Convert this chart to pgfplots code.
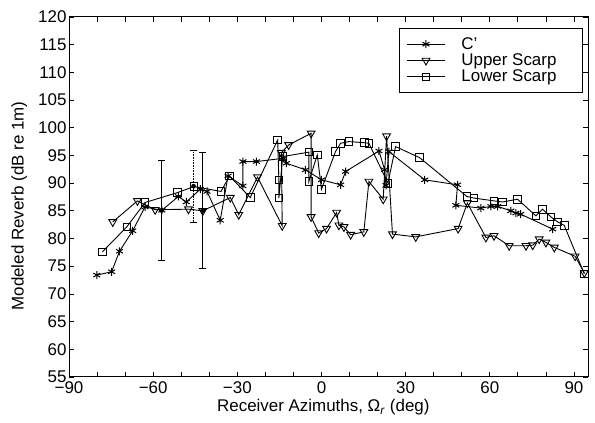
\documentclass[border=0pt]{standalone}
\usepackage{fontspec}
\setmainfont{Liberation Sans}
\usepackage{pgfplots}
\pgfplotsset{compat=1.18}

\begin{document}
\begin{tikzpicture}
\begin{axis}[
    scale only axis,
    width=519bp, height=360bp,
    xmin=-90, xmax=95,
    ymin=55, ymax=120,
    xtick={-90,-60,...,90},
    xticklabels={−90,−60,−30,0,30,60,90},
    minor x tick num=2,
    ytick={55,60,...,120},
    tick align=inside,
    major tick length=5bp,
    minor tick length=5bp,
    every tick/.style={black, line width=0.8bp},
    axis line style={line width=1bp},
    font=\fontsize{17}{20}\selectfont,
    /pgf/number format/assume math mode=true,
    xticklabel style={inner ysep=0pt, yshift=-4.5bp},
    yticklabel style={inner ysep=0pt, xshift=1bp},
    xlabel={Receiver Azimuths, Ω\textsubscript{\textit{r}} (deg)},
    ylabel={Modeled Reverb (dB re 1m)},
    xlabel style={at={(axis description cs:0.49,-0.096)}, anchor=base},
    ylabel style={at={(axis description cs:-0.096,0.475)}, anchor=center},
    legend style={at={(axis description cs:0.990,0.969)}, anchor=north east,
        draw=black, line width=0.8bp, fill=white,
        font=\fontsize{17}{20}\selectfont,
        inner xsep=7bp, inner ysep=7bp, row sep=-1bp,
        /tikz/every odd column/.append style={column sep=14bp}},
    legend cell align=left,
    legend image code/.code={\draw[mark repeat=2,mark phase=2,#1]
        plot coordinates {(0bp,0bp) (19bp,0bp) (38bp,0bp)};},
    every axis plot/.append style={black, line width=0.9bp},
]

% C'
\addplot[mark=asterisk, mark size=4bp, mark options={line width=1bp}] coordinates {
(-80.1,73.4) (-74.8,74.0) (-72.0,77.7) (-67.3,81.4) (-62.9,85.7)
(-56.9,85.1) (-51.0,87.6) (-48.2,86.6) (-43.2,88.9) (-40.8,88.5)
(-36.1,83.3) (-33.3,91.3) (-28.0,89.5) (-28.0,93.9) (-23.2,93.9)
(-13.5,94.5) (-12.5,93.6) (-5.7,92.4) (0.0,90.6) (6.8,89.7) (8.6,92.1)
(20.5,95.8) (22.5,92.4) (23.0,89.6) (24.0,95.7) (36.8,90.6)
(48.5,89.7) (47.9,86.0) (56.8,85.5) (60.4,85.8) (62.8,85.8)
(67.5,85.0) (69.3,84.6) (71.0,84.4) (82.4,81.7)
};
\addlegendentry{\makebox[112bp][l]{C'}}

% Upper Scarp
\addplot[mark=triangle, mark size=4.5bp, mark options={rotate=180}] coordinates {
(-74.4,83.0) (-65.6,86.8) (-59.3,85.2) (-47.4,85.3) (-42.3,85.0)
(-32.5,87.4) (-29.5,84.3) (-22.8,91.1) (-14.0,82.3) (-14.3,95.5)
(-11.7,96.9) (-3.7,99.0) (-3.7,83.9) (-1.0,81.0) (1.8,81.8)
(5.4,84.7) (6.2,82.4) (8.0,82.1) (10.4,80.7) (15.1,81.2)
(16.9,90.3) (22.0,87.1) (23.2,98.5) (25.3,80.8) (33.6,80.3)
(48.7,81.8) (52.0,86.4) (58.6,80.2) (61.5,80.5) (66.9,78.7)
(72.9,78.7) (75.3,78.8) (77.6,79.9) (80.0,79.3) (83.0,78.4)
(90.4,76.8) (93.7,73.8)
};
\addlegendentry{\makebox[112bp][l]{Upper Scarp}}

% Lower Scarp
\addplot[mark=square, mark size=3.8bp] coordinates {
(-78.1,77.6) (-69.4,82.1) (-62.9,86.5) (-51.3,88.3) (-45.4,89.4)
(-35.8,88.5) (-32.8,91.3) (-25.4,87.4) (-15.6,97.8) (-15.2,90.6)
(-15.2,87.3) (-13.8,94.8) (-4.5,95.6) (-4.5,90.3) (-1.5,95.1)
(0.0,88.9) (5.0,95.7) (6.8,97.2) (9.8,97.5) (15.4,97.3)
(16.9,97.2) (23.7,90.0) (26.4,96.6) (35.0,94.6) (51.8,87.6)
(54.4,87.3) (61.5,86.8) (64.5,86.6) (69.9,87.1) (76.4,84.1)
(78.8,85.3) (81.8,83.9) (84.2,83.0) (86.5,82.4) (93.7,73.6)
};
\addlegendentry{\makebox[112bp][l]{Lower Scarp}}

% error bars
\addplot[forget plot, only marks, mark=none, line width=0.9bp,
    error bars/.cd, y dir=both, y explicit,
    error bar style={line width=0.9bp},
    error mark options={rotate=90, mark size=3.5bp, line width=0.9bp}]
    coordinates {(-57.0,85.08) +- (0,8.98) (-42.3,85.05) +- (0,10.45)};
\addplot[forget plot, only marks, mark=none, line width=0.6bp,
    error bars/.cd, y dir=both, y explicit,
    error bar style={line width=0.6bp, densely dotted},
    error mark options={rotate=90, mark size=3.5bp, line width=0.6bp, solid}]
    coordinates {(-45.6,89.45) +- (0,6.55)};

\end{axis}
\pgfresetboundingbox
\path ([xshift=-69bp,yshift=-46bp]current axis.south west)
    rectangle ([xshift=7bp,yshift=17bp]current axis.north east);
\end{tikzpicture}
\end{document}
